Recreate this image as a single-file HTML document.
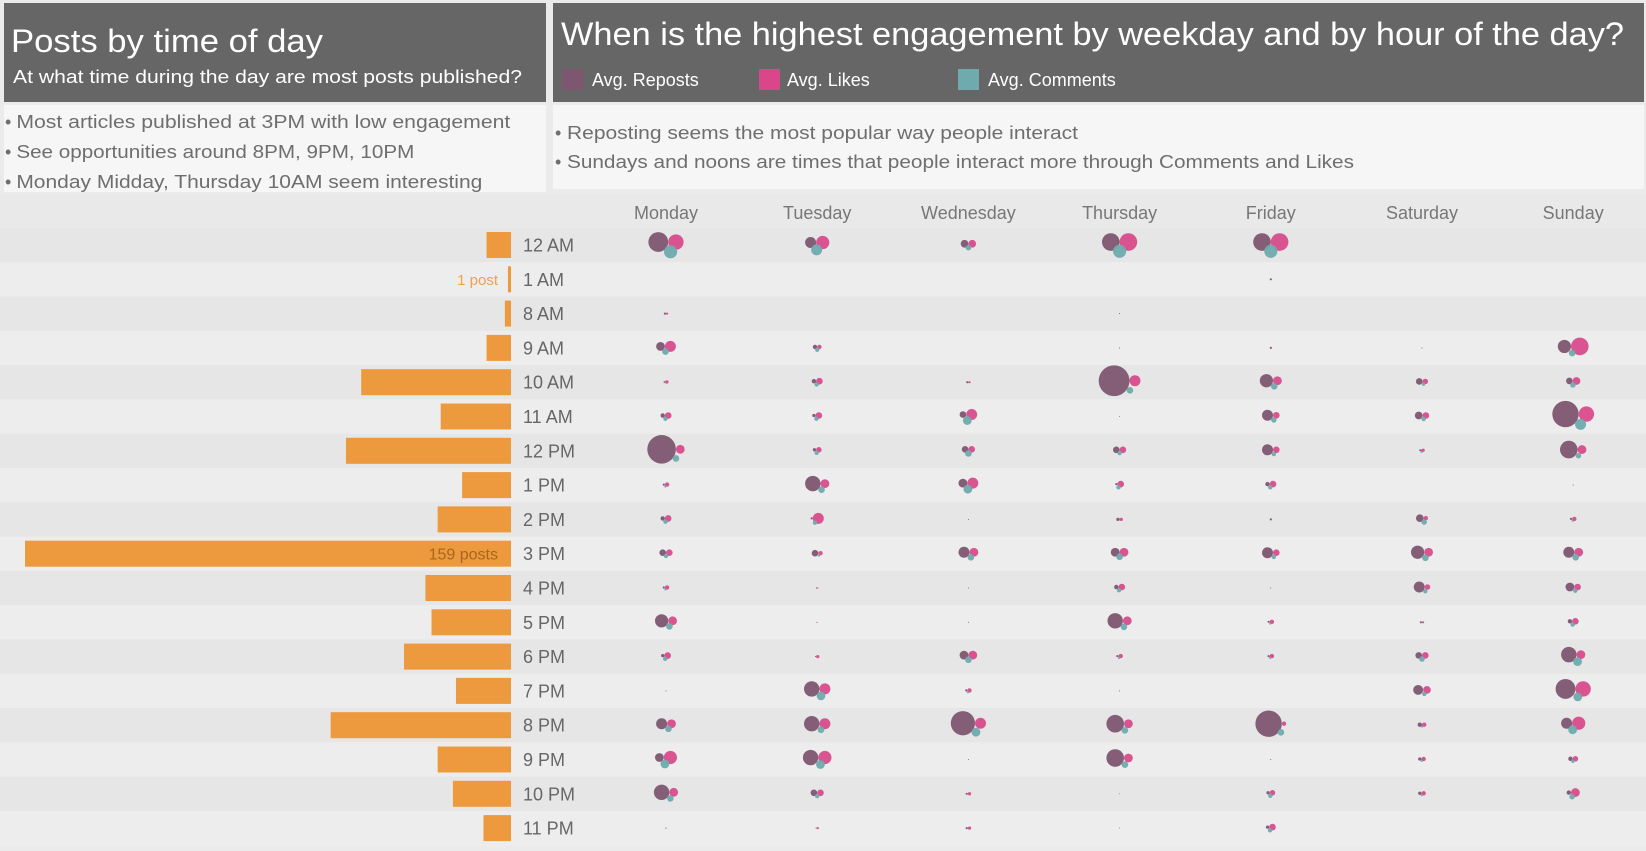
<!DOCTYPE html>
<html><head><meta charset="utf-8"><style>
html,body{margin:0;padding:0;background:#ebebeb;}
svg{display:block;font-family:"Liberation Sans",sans-serif;}
</style></head><body>
<svg id="c" width="1646" height="851" viewBox="0 0 1646 851">
<rect x="0" y="0" width="1646" height="851" fill="#ebebeb"/>
<g>
<rect x="4" y="3" width="542" height="99" fill="#666666"/>
<text x="11" y="52" font-size="32" fill="#fff" textLength="312" lengthAdjust="spacingAndGlyphs">Posts by time of day</text>
<text x="13" y="83" font-size="18" fill="#fff" textLength="509" lengthAdjust="spacingAndGlyphs">At what time during the day are most posts published?</text>
</g>
<g>
<rect x="4" y="105" width="542" height="87" fill="#f6f6f6"/>
<text x="5" y="128" font-size="18" fill="#6e6e6e">• <tspan textLength="494" lengthAdjust="spacingAndGlyphs">Most articles published at 3PM with low engagement</tspan></text>
<text x="5" y="158" font-size="18" fill="#6e6e6e">• <tspan textLength="398" lengthAdjust="spacingAndGlyphs">See opportunities around 8PM, 9PM, 10PM</tspan></text>
<text x="5" y="188" font-size="18" fill="#6e6e6e">• <tspan textLength="466" lengthAdjust="spacingAndGlyphs">Monday Midday, Thursday 10AM seem interesting</tspan></text>
</g>
<g>
<rect x="553" y="3" width="1091" height="99" fill="#666666"/>
<text x="561" y="45" font-size="32" fill="#fff" textLength="1063" lengthAdjust="spacingAndGlyphs">When is the highest engagement by weekday and by hour of the day?</text>
<g>
<rect x="562" y="69" width="21" height="21" fill="#7d5670"/>
<text x="592" y="86" font-size="18" fill="#fff">Avg. Reposts</text>
<rect x="759" y="69" width="21" height="21" fill="#d9468a"/>
<text x="787" y="86" font-size="18" fill="#fff">Avg. Likes</text>
<rect x="958" y="69" width="21" height="21" fill="#6fabae"/>
<text x="988" y="86" font-size="18" fill="#fff">Avg. Comments</text>
</g>
</g>
<g>
<rect x="553" y="105" width="1091" height="84" fill="#f6f6f6"/>
<text x="555" y="139" font-size="18" fill="#6e6e6e">• <tspan x="567" textLength="511" lengthAdjust="spacingAndGlyphs">Reposting seems the most popular way people interact</tspan></text>
<text x="555" y="168" font-size="18" fill="#6e6e6e">• <tspan x="567" textLength="787" lengthAdjust="spacingAndGlyphs">Sundays and noons are times that people interact more through Comments and Likes</tspan></text>
</g>
<g id="chart"></g>
</svg>
<script>
const hours = ["12 AM","1 AM","8 AM","9 AM","10 AM","11 AM","12 PM","1 PM","2 PM","3 PM","4 PM","5 PM","6 PM","7 PM","8 PM","9 PM","10 PM","11 PM"];
const days = ["Monday","Tuesday","Wednesday","Thursday","Friday","Saturday","Sunday"];
const postCounts = [8,1,2,8,49,23,54,16,24,159,28,26,35,18,59,24,19,9];
const reposts = [
[9,0,1,4,0.8,2,13,1,2,3,1,6,1.5,0.5,5,4,7,0.4],
[5,0,0,2,2,1.5,1.5,7,1,3,0.6,0.4,0.5,7,7,7,3,0.5],
[3.5,0,0,0,1,3,3,4,0.5,5,0.5,0.5,4,1,11,0.5,1,1],
[8,0,0.5,0.5,14,0.4,3,1,1.5,4,2,7,1,0.5,8,8,0.4,0.4],
[8,1,0,1,6,5,5,2,1,5,0.5,1,1,0,12,0.5,1.5,1.5],
[0,0,0,0.5,3,3.5,1,0,3.5,6,5,1,3,4.5,2,1.5,1.5,0],
[0,0,0,6,3,12,8,0.5,1,5,4,2,7,9,5,2,2,0]];
const likes = [
[7,0,1,5,1.5,3,4,2,3,3,2,4,3,0,4,6,4,0.4],
[6,0,0,2,3,3,2.5,4,5,2,0.6,0.4,1.5,5,5,6,3,1],
[3.5,0,0,0,1,5,3,5,0,4,0,0,4,2,5,0,1.5,1.5],
[8,0,0,0,5,0,3,3,1.5,4,3,4,2,0,4,4,0,0],
[8,0,0,0,4,3,3,3,0,3,0,2,2,0,2,0,2.5,3],
[0,0,0,0,2.5,3,1.5,0,2,4,2.5,1,3,3.5,2,2,2,0],
[0,0,0,8,3.5,7,4,0,2,4,3,3,4,7,6,2.5,4,0]];
const comments = [
[6,0,0,3,0.5,2,3,1,2,2,1,3,2,0,3,4,3,0],
[5,0,0,2,2,2,2,3,2,1,0,0,0,4,3,4,2,0],
[2.5,0,0,0,0,4,3,4,0,3,0,0,3,1,4,0,0,0],
[6,0,0,0,3,0,2,2,0,3,2,3,1,0,3,3,0,0],
[6,0,0,0,3,2.5,2,2,0,2,0,1,1,0,3,0,2,2],
[0,0,0,0,1.5,2,1,0,2.5,3,2,0,2.5,2,1,1,1,0],
[0,0,0,3,2.5,5,2.5,0,1,3,2,2,4,4,4,1.5,2.5,0]];

const NS="http://www.w3.org/2000/svg";
const g=document.getElementById('chart');
function mk(tag,attrs,parent){const e=document.createElementNS(NS,tag);for(const k in attrs)e.setAttribute(k,attrs[k]);(parent||g).appendChild(e);return e;}
const rowH=34.3, row0=245;
const yScale=i=>row0+i*rowH;
const dayX=d=>666+d*151.2;
const maxPosts=159, barRight=511, barMaxLen=486;
const xLen=v=>v/maxPosts*barMaxLen;
const rScale=v=>v*1.1;

const hb=mk('rect',{x:0,y:194,width:1646,height:row0-rowH/2-194,fill:'#e9e9e9'});


hours.forEach((h,i)=>{
  const b=mk('rect',{x:0,y:yScale(i)-rowH/2,width:1646,height:rowH,fill:i%2===0?'#e6e6e6':'#ededed'});
  
  
});
days.forEach((d,j)=>{
  const t=mk('text',{x:dayX(j),y:219,'font-size':18,fill:'#777','text-anchor':'middle'});
  t.textContent=d;
  
  
});
hours.forEach((h,i)=>{
  const y=yScale(i);
  const len=xLen(postCounts[i]);
  const bar=mk('rect',{x:barRight-len,y:y-13,width:len,height:26,fill:'#ec9a3d'});
  
  
  const t=mk('text',{x:523,y:y+6.5,'font-size':18,fill:'#666'});
  t.textContent=h;
  
  
  if(postCounts[i]===1){
    const l=mk('text',{x:498,y:y+5.5,'font-size':15,fill:'#f0a050','text-anchor':'end'});
    l.textContent='1 post';
    
    
  }
  if(postCounts[i]===maxPosts){
    const l=mk('text',{x:498,y:y+6,'font-size':16,fill:'#a8661f','text-anchor':'end'});
    l.textContent=maxPosts+' posts';
    
    
  }
});
days.forEach((d,j)=>{
  hours.forEach((h,i)=>{
    const cx=dayX(j), cy=yScale(i);
    const rR=rScale(reposts[j][i]), rL=rScale(likes[j][i]), rC=rScale(comments[j][i]);
    if(rR+rL+rC<=0) return;
    const xR=cx-rL, xL=cx+rR, yT=cy-rC*0.45;
    const xC=(xR+xL)/2+ (rR>rL? rR*0.35:0), yC=cy+Math.max(rR,rL)*0.45+rC*0.35;
    if(rR>0){const c=mk('circle',{cx:xR,cy:yT,r:rR,fill:'#7d5670','fill-opacity':0.95});
      
      }
    if(rL>0){const c=mk('circle',{cx:xL,cy:yT,r:rL,fill:'#d9468a','fill-opacity':0.92});
      
      }
    if(rC>0){const c=mk('circle',{cx:xC,cy:yC,r:rC,fill:'#6fabae','fill-opacity':0.95});
      
      }
  });
});
</script>
</body></html>
